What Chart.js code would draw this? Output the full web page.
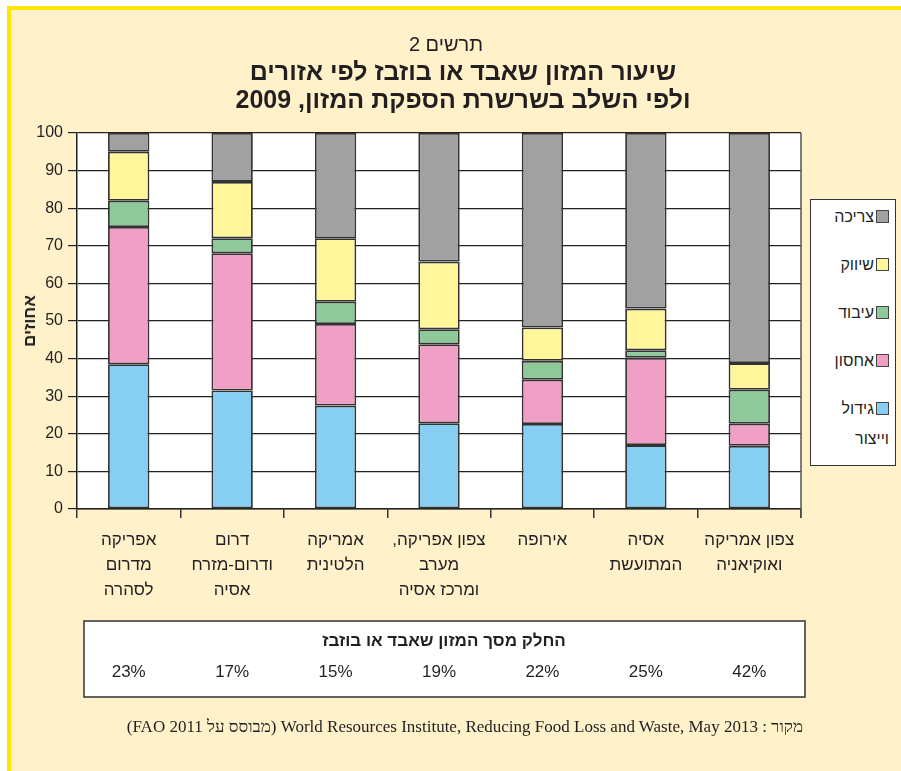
<!DOCTYPE html>
<html lang="he">
<head>
<meta charset="utf-8">
<script src="https://cdn.jsdelivr.net/npm/chart.js@4/dist/chart.umd.min.js"></script>
<style>
  body { margin: 0; background: #fff; width: 901px; height: 771px; position: relative; overflow: hidden; font-family: "Liberation Sans", "DejaVu Sans", sans-serif; color: #231f20; }
  .frame { position: absolute; left: 7px; top: 6px; right: 0; bottom: 0; background: #fff1c9; border-top: 4px solid #ffe500; border-left: 4px solid #ffe500; }
  #chart { position: absolute; left: 0; top: 0; direction: rtl; }
  .head { position: absolute; text-align: center; direction: rtl; }
  .sub { left: 346px; width: 200px; top: 33px; font-size: 20px; }
  .title { left: 163px; width: 600px; top: 57px; font-size: 25px; font-weight: bold; line-height: 28px; }
  .ytitle { position: absolute; left: 30px; top: 321px; transform: translate(-50%, -50%) rotate(-90deg); font-size: 17px; font-weight: bold; direction: rtl; white-space: nowrap; }
  .legend { position: absolute; left: 810px; top: 199px; width: 84px; height: 265px; background: #fff; border: 1.5px solid #333; }
  .legend .item { position: absolute; right: 6px; width: 70px; direction: rtl; text-align: right; font-size: 16px; line-height: 30px; }
  .legend .sw { display: inline-block; width: 11px; height: 11px; border: 1.5px solid #444; margin-left: 2px; vertical-align: -1px; }
  .source { position: absolute; right: 98px; top: 717px; direction: rtl; font-family: "Liberation Serif", serif; font-size: 17px; white-space: nowrap; }
</style>
</head>
<body>
<div class="frame"></div>
<canvas id="chart" width="901" height="771"></canvas>
<div class="head sub">תרשים 2</div>
<div class="head title">שיעור המזון שאבד או בוזבז לפי אזורים<br>ולפי השלב בשרשרת הספקת המזון, 2009</div>
<div class="ytitle">אחוזים</div>
<div class="legend" id="legend"></div>
<div class="source">מקור : World Resources Institute, Reducing Food Loss and Waste, May 2013 (מבוסס על FAO 2011)</div>
<script>
// regions (x axis), each label split into lines
const regions = [
  ['אפריקה', 'מדרום', 'לסהרה'],
  ['דרום', 'ודרום-מזרח', 'אסיה'],
  ['אמריקה', 'הלטינית'],
  ['צפון אפריקה,', 'מערב', 'ומרכז אסיה'],
  ['אירופה'],
  ['אסיה', 'המתועשת'],
  ['צפון אמריקה', 'ואוקיאניה']
];

// stage shares, % of food lost or wasted (bottom to top)
const production = [38.5, 31.5, 27.5, 22.8, 22.6, 17.0, 16.8];
const storage = [36.5, 36.5, 21.7, 21.0, 11.8, 23.2, 5.9];
const processing = [7.0, 4.0, 5.9, 4.0, 5.0, 2.0, 9.0];
const distribution = [13.0, 15.0, 16.9, 18.0, 8.9, 11.1, 7.1];
const consumption = [5.0, 13.0, 28.0, 34.2, 51.7, 46.7, 61.2];

// share of total food lost or wasted
const lossShare = [23, 17, 15, 19, 22, 25, 42];

const yTicks = [0, 10, 20, 30, 40, 50, 60, 70, 80, 90, 100];

const datasets = [
  { label: 'גידול וייצור', data: production, backgroundColor: '#87cef3' },
  { label: 'אחסון', data: storage, backgroundColor: '#f0a0c4' },
  { label: 'עיבוד', data: processing, backgroundColor: '#8fc899' },
  { label: 'שיווק', data: distribution, backgroundColor: '#fff59b' },
  { label: 'צריכה', data: consumption, backgroundColor: '#a0a1a0' }
];
datasets.forEach(d => {
  d.borderColor = '#333';
  d.borderWidth = 1.8;
  d.borderSkipped = false;
  d.barPercentage = 0.4;
  d.categoryPercentage = 1;
});

// legend, top item first
const legend = document.getElementById('legend');
datasets.slice().reverse().forEach((d, i) => {
  const item = document.createElement('div');
  item.className = 'item';
  item.style.top = (2 + i * 48) + 'px';
  item.innerHTML = '<span class="sw" style="background:' + d.backgroundColor + '"></span>' + d.label;
  legend.appendChild(item);
});

// white plot area, right edge line, and the loss share box below
const extras = {
  id: 'extras',
  beforeDraw(chart) {
    const a = chart.chartArea;
    const ctx = chart.ctx;
    ctx.save();
    ctx.fillStyle = '#fff';
    ctx.fillRect(a.left, a.top, a.right - a.left, a.bottom - a.top);
    ctx.restore();
  },
  afterDraw(chart) {
    const a = chart.chartArea;
    const ctx = chart.ctx;
    const x = chart.scales.x;
    ctx.save();
    ctx.strokeStyle = '#555';
    ctx.lineWidth = 1.5;
    ctx.beginPath();
    ctx.moveTo(a.right, a.top);
    ctx.lineTo(a.right, a.bottom + 9);
    ctx.stroke();

    ctx.fillStyle = '#fff';
    ctx.fillRect(84, 621, 721, 76);
    ctx.strokeStyle = '#333';
    ctx.strokeRect(84, 621, 721, 76);
    ctx.fillStyle = '#231f20';
    ctx.textAlign = 'center';
    ctx.textBaseline = 'middle';
    ctx.font = 'bold 17px "Liberation Sans", sans-serif';
    ctx.fillText('החלק מסך המזון שאבד או בוזבז', 444, 641);
    ctx.font = '17px "Liberation Sans", sans-serif';
    lossShare.forEach((v, i) => {
      ctx.fillText(v + '%', x.getPixelForValue(i), 672);
    });
    ctx.restore();
  }
};

new Chart(document.getElementById('chart'), {
  type: 'bar',
  data: { labels: regions, datasets: datasets },
  plugins: [extras],
  options: {
    responsive: false,
    animation: false,
    devicePixelRatio: 1,
    layout: { padding: { top: 133, right: 100, left: 0, bottom: 0 } },
    plugins: { legend: { display: false }, tooltip: { enabled: false } },
    scales: {
      x: {
        stacked: true,
        afterFit: s => { s.height = 262; },
        grid: { drawOnChartArea: false, color: '#333', tickLength: 9, lineWidth: 1.5 },
        border: { color: '#222', width: 1.5 },
        ticks: {
          color: '#231f20', padding: 10, maxRotation: 0, autoSkip: false,
          font: { family: '"Liberation Sans", sans-serif', size: 17, lineHeight: 1.47 }
        }
      },
      y: {
        stacked: true,
        min: 0,
        max: 100,
        afterFit: s => { s.width = 77; },
        afterBuildTicks: s => { s.ticks = yTicks.map(v => ({ value: v })); },
        grid: { color: '#222', tickLength: 9, lineWidth: 1.2 },
        border: { color: '#222', width: 1.5 },
        ticks: {
          color: '#231f20', padding: 5,
          font: { family: '"Liberation Sans", sans-serif', size: 16 }
        }
      }
    }
  }
});
</script>
</body>
</html>
